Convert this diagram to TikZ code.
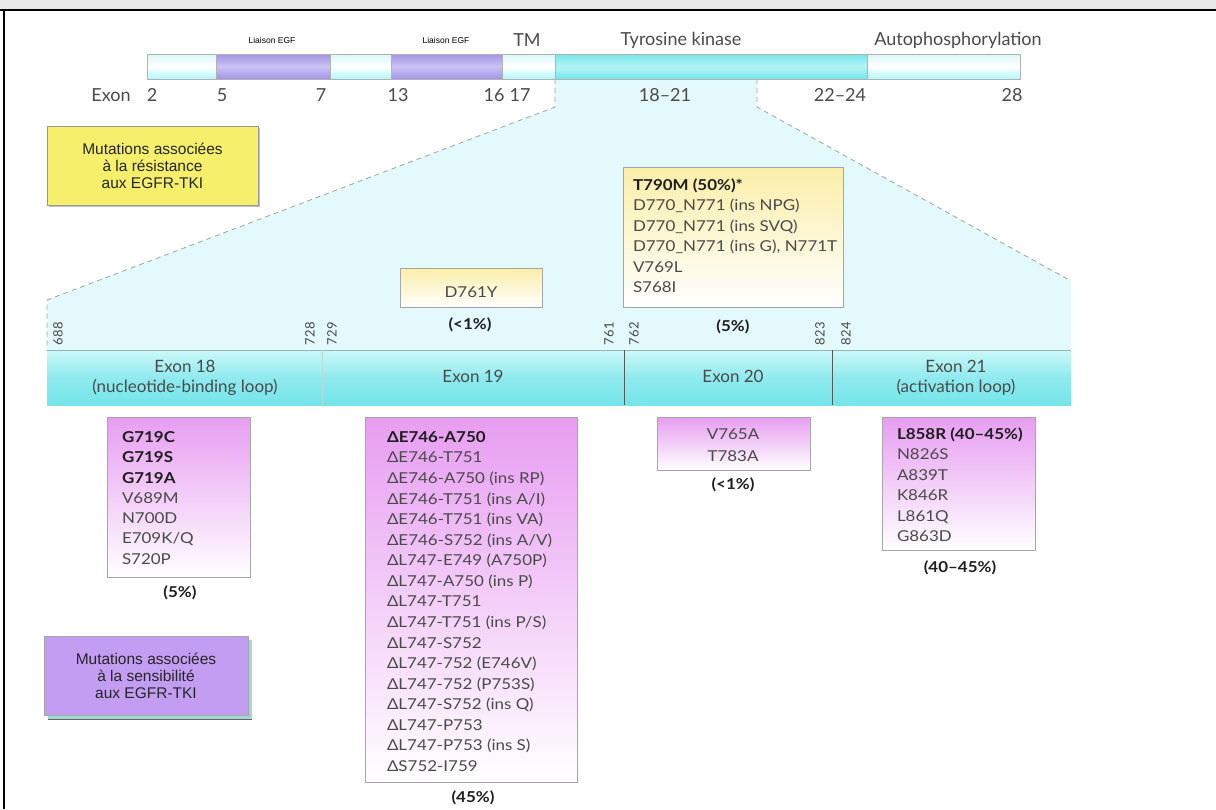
\documentclass[tikz,border=0pt]{standalone}
\usepackage{fontspec}
\setmainfont{Lato}
\newfontfamily\mutf[FakeStretch=1.13]{Lato}
\newfontfamily\arialf{Liberation Sans}
\begin{document}
\definecolor{txtgray}{HTML}{4A4A4A}
\definecolor{boldtxt}{HTML}{1E1E1E}
\definecolor{lightarea}{HTML}{E4F9FC}
\definecolor{dashgray}{HTML}{9AA4A6}
\definecolor{pinktop}{HTML}{E79DF1}
\definecolor{yeltop}{HTML}{FBEEA8}
\definecolor{purpseg}{HTML}{A195E6}
\definecolor{purpmid}{HTML}{CBC3F4}
\definecolor{cyanseg}{HTML}{74E5EA}
\definecolor{cyanmid}{HTML}{B5F5F6}
\definecolor{lightseg}{HTML}{DDF6F9}
\definecolor{labelyel}{HTML}{F6EF6C}
\definecolor{labelpurp}{HTML}{C39DF2}
\definecolor{shadowteal}{HTML}{9FD9D2}
\begin{tikzpicture}[x=1pt,y=-1pt,
  every node/.style={inner sep=0pt, outer sep=0pt},
  toplbl/.style={font=\fontsize{18}{20}\selectfont, text=txtgray},
  exonlbl/.style={font=\fontsize{17}{22}\selectfont, text=txtgray, align=center},
  numlbl/.style={font=\fontsize{13}{15}\selectfont, text=txtgray, rotate=90, anchor=west},
  tinylbl/.style={font=\arialf\fontsize{8.5}{10}\selectfont, text=black},
  mut/.style={font=\mutf\fontsize{15}{18}\selectfont, text=txtgray, anchor=base west},
  mutc/.style={font=\mutf\fontsize{15}{18}\selectfont, text=txtgray, anchor=base},
  mutb/.style={font=\mutf\bfseries\fontsize{15}{18}\selectfont, text=boldtxt, anchor=base west},
  pct/.style={font=\mutf\bfseries\fontsize{15}{18}\selectfont, text=boldtxt},
  pbox/.style={draw=black!35, line width=0.8pt, top color=pinktop, bottom color=white, anchor=north west},
  ybox/.style={draw=black!35, line width=0.8pt, top color=yeltop, bottom color=white, anchor=north west},
  seglight/.style={draw=black!30, line width=0.6pt, top color=lightseg, bottom color=lightseg!80!cyan, middle color=white},
  segpurp/.style={draw=black!30, line width=0.6pt, top color=purpseg, bottom color=purpseg, middle color=purpmid},
  segcyan/.style={draw=black!30, line width=0.6pt, top color=cyanseg, bottom color=cyanseg, middle color=cyanmid},
  zoomline/.style={draw=dashgray, dash pattern=on 5pt off 4pt, line width=0.8pt},
  legendtxt/.style={font=\arialf\fontsize{15.5}{17}\selectfont, text=black!85, align=center}
]
\useasboundingbox (0,0) rectangle (1216,809);
\fill[white] (0,0) rectangle (1216,809);
% frame
\fill[black!9] (0,0) rectangle (1216,9);
\draw[line width=2pt] (0,10) -- (1216,10);
\draw[line width=1.6pt] (4,10) -- (4,809);

% zoom area
\coordinate (tkL) at (555,79);
\coordinate (tkR) at (757,79);
\coordinate (kL) at (555,107);
\coordinate (kR) at (757,107);
\coordinate (bL) at (47,300);
\coordinate (bL2) at (47,350);
\coordinate (bR) at (1071,281);
\coordinate (bR2) at (1071,350);
\fill[lightarea] (tkL) -- (tkR) -- (kR) -- (bR) -- (bR2) -- (bL2) -- (bL) -- (kL) -- cycle;
\path[zoomline] (tkL) -- (kL) -- (bL) -- (bL2);
\path[zoomline] (tkR) -- (kR) -- (bR);

% top bar
\path[seglight] (147,54) rectangle (216,79);
\path[segpurp] (216,54) rectangle (330,79);
\path[seglight] (330,54) rectangle (391,79);
\path[segpurp] (391,54) rectangle (502,79);
\path[seglight] (502,54) rectangle (555,79);
\path[segcyan] (555,54) rectangle (867,79);
\path[seglight] (867,54) rectangle (1020,79);

\node[tinylbl] (le1) at (272,40) {Liaison EGF};
\node[tinylbl] (le2) at (446,40) {Liaison EGF};
\node[toplbl] (tm) at (527,40) {TM};
\node[toplbl] (tk) at (681,40) {Tyrosine kinase};
\node[toplbl] (ap) at (958,40) {Autophosphorylation};

\node[toplbl] (ex) at (111,95) {Exon};
\node[toplbl] (e2) at (152,95) {2};
\node[toplbl] (e5) at (222,95) {5};
\node[toplbl] (e7) at (321,95) {7};
\node[toplbl] (e13) at (398,95) {13};
\node[toplbl] (e16) at (494,95) {16};
\node[toplbl] (e17) at (520,95) {17};
\node[toplbl] (e18) at (665,95) {18–21};
\node[toplbl] (e22) at (840,95) {22–24};
\node[toplbl] (e28) at (1012,95) {28};

% lower exon bar
\path[top color=cyanmid!70!white, bottom color=cyanseg, middle color=cyanseg!80!white] (47,350) rectangle (1071,405);
\draw[cyanseg!60!black!60, line width=0.6pt] (47,350) -- (1071,350);
\draw[cyanseg!70!black!40, line width=0.5pt] (322,350) -- (322,405);
\draw[black!65, line width=0.8pt] (624,350) -- (624,405);
\draw[black!65, line width=0.8pt] (832,350) -- (832,405);
\node[exonlbl] (x18) at (185,378) {Exon 18\\[-2pt](nucleotide-binding loop)};
\node[exonlbl] (x19) at (473,376) {Exon 19};
\node[exonlbl] (x20) at (733,376) {Exon 20};
\node[exonlbl] (x21) at (956,378) {Exon 21\\[-2pt](activation loop)};

\node[numlbl] (n688) at (58,345) {688};
\node[numlbl] (n728) at (310,345) {728};
\node[numlbl] (n729) at (332,345) {729};
\node[numlbl] (n761) at (609,345) {761};
\node[numlbl] (n762) at (634,345) {762};
\node[numlbl] (n823) at (820,345) {823};
\node[numlbl] (n824) at (846,345) {824};

% legend boxes
\fill[black!25] (49,128) rectangle (260,207);
\node[draw=black!40, fill=labelyel, minimum width=211pt, minimum height=79pt, anchor=north west, line width=0.6pt] (legY) at (47,126) {};
\node[legendtxt] (legYt) at (legY.center) {Mutations associées\\à la résistance\\aux EGFR-TKI};

\fill[shadowteal] (48,640) rectangle (252,719);
\draw[black!60, line width=0.6pt] (48,719) -- (252,719);
\node[draw=black!35, fill=labelpurp, minimum width=204pt, minimum height=79pt, anchor=north west, line width=0.6pt] (legP) at (44,636) {};
\node[legendtxt] (legPt) at (legP.center) {Mutations associées\\à la sensibilité\\aux EGFR-TKI};

% resistance boxes
\node[ybox, minimum width=142pt, minimum height=39pt] (d761) at (400,268) {};
\node[mutc] (d761t) at (471,297) {D761Y};
\node[pct] (p761) at (470,325) {(<1\%)};

\node[ybox, minimum width=220pt, minimum height=140pt] (t790) at (623,167) {};
\node[mutb] (t790a) at (633,190.4) {T790M (50\%)*};
\foreach \t [count=\i] in {D770\_N771 (ins NPG), D770\_N771 (ins SVQ), {D770\_N771 (ins G), N771T}, V769L, S768I}
  \node[mut] (t790l\i) at (633,190.4+20.5*\i) {\t};
\node[pct] (p790) at (733,327) {(5\%)};

% sensitivity boxes
\node[pbox, minimum width=143pt, minimum height=160pt] (b18) at (107,417) {};
\foreach \t [count=\i from 0] in {G719C, G719S, G719A}
  \node[mutb] (b18b\i) at (122,442.4+20.3*\i) {\t};
\foreach \t [count=\i from 3] in {V689M, N700D, E709K/Q, S720P}
  \node[mut] (b18l\i) at (122,442.4+20.3*\i) {\t};
\node[pct] (p18) at (180,593) {(5\%)};

\node[pbox, minimum width=212pt, minimum height=365pt] (b19) at (365,417) {};
\node[mutb] (b19b) at (387,442.4) {ΔE746-A750};
\foreach \t [count=\i] in {ΔE746-T751, ΔE746-A750 (ins RP), ΔE746-T751 (ins A/I), ΔE746-T751 (ins VA), ΔE746-S752 (ins A/V), ΔL747-E749 (A750P), ΔL747-A750 (ins P), ΔL747-T751, ΔL747-T751 (ins P/S), ΔL747-S752, ΔL747-752 (E746V), ΔL747-752 (P753S), ΔL747-S752 (ins Q), ΔL747-P753, ΔL747-P753 (ins S), ΔS752-I759}
  \node[mut] (b19l\i) at (387,442.4+20.56*\i) {\t};
\node[pct] (p19) at (473,798) {(45\%)};

\node[pbox, minimum width=153pt, minimum height=53pt] (b20) at (657,417) {};
\node[mutc] (b20a) at (733,439.4) {V765A};
\node[mutc] (b20b) at (733,461.4) {T783A};
\node[pct] (p20) at (733,485) {(<1\%)};

\node[pbox, minimum width=153pt, minimum height=133pt] (b21) at (882,417) {};
\node[mutb] (b21b) at (897,439.4) {L858R (40–45\%)};
\foreach \t [count=\i] in {N826S, A839T, K846R, L861Q, G863D}
  \node[mut] (b21l\i) at (897,439.4+20.4*\i) {\t};
\node[pct] (p21) at (960,568) {(40–45\%)};
\end{tikzpicture}
\end{document}
